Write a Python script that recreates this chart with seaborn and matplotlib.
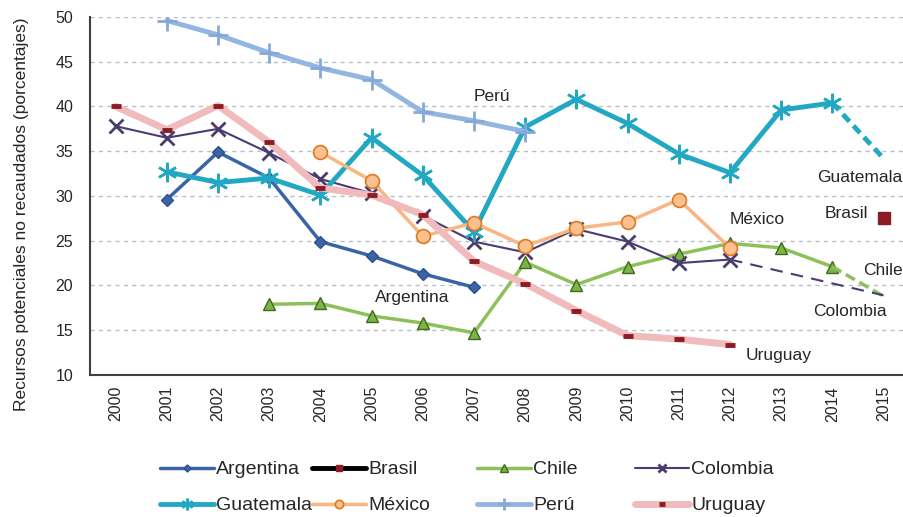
import numpy as np
import pandas as pd
import seaborn as sns
import matplotlib.pyplot as plt

years = list(range(2000, 2016))

# valores (None = sin dato)
argentina = [None, 29.6, 34.9, 32.0, 24.9, 23.3, 21.3, 19.8, None, None, None, None, None, None, None, None]
brasil = [None] * 15 + [27.5]
chile = [None, None, None, 17.9, 18.0, 16.6, 15.8, 14.7, 22.6, 20.1, 22.1, 23.5, 24.7, 24.2, 22.1, None]
colombia = [37.8, 36.5, 37.5, 34.8, 31.9, 30.3, 27.8, 24.9, 23.7, 26.3, 24.9, 22.5, 22.9, None, None, None]
guatemala = [None, 32.7, 31.5, 32.0, 30.1, 36.5, 32.3, 26.0, 37.7, 40.8, 38.1, 34.7, 32.6, 39.6, 40.4, None]
mexico = [None, None, None, None, 34.9, 31.7, 25.5, 27.0, 24.4, 26.4, 27.1, 29.6, 24.2, None, None, None]
peru = [None, 49.6, 48.0, 46.0, 44.3, 43.0, 39.4, 38.4, 37.2, None, None, None, None, None, None, None]
uruguay = [40.0, 37.4, 40.1, 36.0, 30.9, 30.1, 27.9, 22.7, 20.2, 17.2, 14.4, 14.0, 13.4, None, None, None]

# tramos proyectados (linea discontinua)
proj_years_guat = [2014, 2015]
proj_guatemala = [40.4, 34.2]
proj_years_chile = [2014, 2015]
proj_chile = [22.1, 18.8]
proj_years_col = [2012, 2015]
proj_colombia = [22.9, 18.9]

series = {
    "Argentina": argentina, "Brasil": brasil, "Chile": chile, "Colombia": colombia,
    "Guatemala": guatemala, "México": mexico, "Perú": peru, "Uruguay": uruguay,
}
df = pd.DataFrame(series, index=years).rename_axis("year").reset_index()
df = df.melt(id_vars="year", var_name="pais", value_name="valor").dropna()

styles = {
    "Argentina": dict(color="#3B64A6", lw=2.5, marker="D", ms=6, mfc="#3B64A6", mec="#2E5090", mew=1),
    "Brasil": dict(color="black", lw=3.5, marker="s", ms=8, mfc="#8B1C24", mec="#8B1C24", mew=1),
    "Chile": dict(color="#8CC15A", lw=2.5, marker="^", ms=9, mfc="#7DB446", mec="#3F6A1E", mew=1),
    "Colombia": dict(color="#4A3C6E", lw=1.5, marker="x", ms=10, mfc="#4A3C6E", mec="#4A3C6E", mew=2),
    "Guatemala": dict(color="#22A8C2", lw=3.5, marker=(6, 2, 0), ms=14, mfc="#22A8C2", mec="#22A8C2", mew=1.8),
    "México": dict(color="#F9B682", lw=2.5, marker="o", ms=10, mfc="#FBC08E", mec="#DB7B22", mew=1.2),
    "Perú": dict(color="#92B5E2", lw=3.5, marker="+", ms=14, mfc="#92B5E2", mec="#86A8D8", mew=2),
    "Uruguay": dict(color="#F1BABC", lw=5, marker="_", ms=7, mfc="#8B1C24", mec="#8B1C24", mew=3.5),
}

sns.set_style("white")
plt.rcParams["font.family"] = ["Liberation Sans", "DejaVu Sans"]

fig = plt.figure(figsize=(9.04, 5.17), dpi=100)
ax = fig.add_axes([0.0996, 0.2747, 0.9004, 0.6925])

for pais, st in styles.items():
    sub = df[df["pais"] == pais]
    sns.lineplot(data=sub, x="year", y="valor", ax=ax, label=pais, estimator=None, sort=False,
                 color=st["color"], linewidth=st["lw"], marker=st["marker"], markersize=st["ms"],
                 markerfacecolor=st["mfc"], markeredgecolor=st["mec"], markeredgewidth=st["mew"],
                 zorder=3)

ax.plot(proj_years_guat, proj_guatemala, color="#22A8C2", lw=3.5, ls=(0, (2, 1.2)), zorder=3)
ax.plot(proj_years_chile, proj_chile, color="#8CC15A", lw=2.5, ls=(0, (3, 1.5)), zorder=3)
ax.plot(proj_years_col, proj_colombia, color="#4A3C6E", lw=1.5, ls=(0, (6, 4)), zorder=3)

# etiquetas de series
etiquetas = [
    ("Perú", 2007.0, 41.1, "left"), ("Guatemala", 2015.37, 32.1, "right"), ("Brasil", 2013.85, 28.0, "left"),
    ("México", 2012.0, 27.4, "left"), ("Chile", 2014.6, 21.7, "left"), ("Colombia", 2013.62, 17.1, "left"),
    ("Argentina", 2005.07, 18.7, "left"), ("Uruguay", 2012.3, 12.2, "left"),
]
for txt, x, y, ha in etiquetas:
    ax.text(x, y, txt, fontsize=12.5, color="#262626", ha=ha, va="center")

ax.set_xlim(1999.5, 2015.4)
ax.set_ylim(10, 50)
ax.set_yticks(range(10, 51, 5))
ax.set_xticks(years)
ax.set_xticklabels([str(y) for y in years], rotation=90, fontsize=11.5, color="#262626")
ax.set_xticks([y + 0.5 for y in years[:-1]] + [1999.5], minor=True)
ax.tick_params(axis="x", which="major", length=0, pad=8)
ax.tick_params(axis="x", which="minor", length=6, direction="inout", width=1.2, color="#404040")
ax.tick_params(axis="y", length=6, direction="inout", width=1.2, color="#404040",
               labelsize=11.5, labelcolor="#262626", pad=9)
ax.yaxis.grid(True, color="#B9BDC9", ls=(0, (3, 3)), lw=1)
ax.set_xlabel("")
ax.set_ylabel("Recursos potenciales no recaudados (porcentajes)", fontsize=12.5, color="#262626")
ax.yaxis.set_label_coords(-0.075, 0.45)

for s in ["top", "right"]:
    ax.spines[s].set_visible(False)
for s in ["left", "bottom"]:
    ax.spines[s].set_color("#404040")
    ax.spines[s].set_linewidth(1.5)

handles, labels = ax.get_legend_handles_labels()
ax.get_legend().remove()
hmap = dict(zip(labels, handles))
columnas = [("Argentina", "Guatemala"), ("Brasil", "México"), ("Chile", "Perú"), ("Colombia", "Uruguay")]
xpos = [150, 302, 467, 625]
for col, xp in zip(columnas, xpos):
    leg = fig.legend([hmap[c] for c in col], list(col), loc="upper left",
                     bbox_to_anchor=(xp / 904, 1 - 451 / 517), frameon=False, fontsize=14,
                     handlelength=2.8, handletextpad=0.1, labelspacing=0.95, borderpad=0,
                     markerscale=0.6)
    for t in leg.get_texts():
        t.set_color("#262626")

fig.savefig("out.png", dpi=100)
